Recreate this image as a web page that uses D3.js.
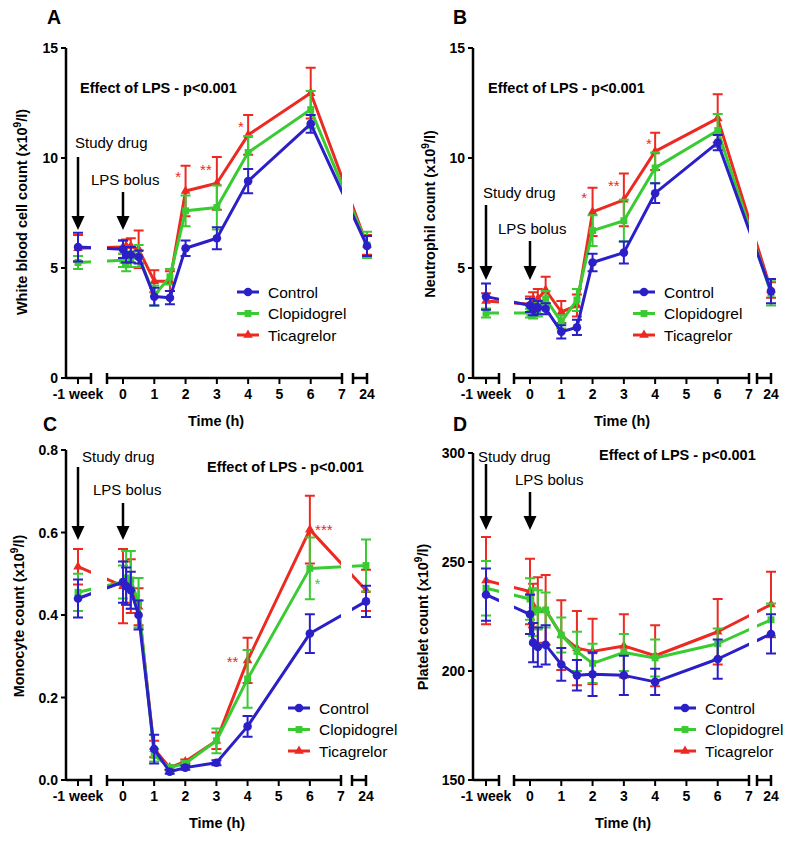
<!DOCTYPE html>
<html>
<head>
<meta charset="utf-8">
<script src="https://cdn.jsdelivr.net/npm/d3@7"></script>
<style>
  body { margin: 0; background: #fff; }
  text { font-family: "Liberation Sans", Arial, sans-serif; }
</style>
</head>
<body>
<div id="chart"></div>
<script>
const W = 800, H = 841;

// time points in hours (-168 = one week before)
const times = [-168, 0, 0.1, 0.25, 0.5, 1, 1.5, 2, 3, 4, 6, 24];
const xTickValues = [-168, 0, 1, 2, 3, 4, 5, 6, 7, 24];
const xTickLabels = ["-1 week", "0", "1", "2", "3", "4", "5", "6", "7", "24"];
const groups = ["Control", "Clopidogrel", "Ticagrelor"];
const colors = { Control: "#2b1fc8", Clopidogrel: "#3acb33", Ticagrelor: "#ec2a22" };

// A - white blood cells
const wbcControl = [5.95, 5.85, 5.6, 5.6, 5.5, 3.7, 3.65, 5.9, 6.35, 8.95, 11.55, 6.0];
const wbcControlErr = [0.65, 0.4, 0.35, 0.35, 0.3, 0.4, 0.3, 0.35, 0.5, 0.55, 0.4, 0.45];
const wbcClop = [5.25, 5.35, 5.15, 5.4, 5.55, 3.75, 4.6, 7.6, 7.75, 10.25, 12.2, 6.05];
const wbcClopErr = [0.3, 0.3, 0.3, 0.35, 0.5, 0.45, 0.35, 0.7, 1.0, 0.75, 0.85, 0.6];
const wbcTica = [5.9, 5.95, 6.0, 6.0, 5.85, 4.4, 4.4, 8.5, 8.85, 11.05, 12.95, 6.05];
const wbcTicaErr = [0.6, 0.3, 0.3, 0.35, 0.85, 0.5, 0.45, 1.15, 1.2, 0.9, 1.15, 0.45];

// B - neutrophils
const neuControl = [3.7, 3.3, 3.1, 3.2, 3.15, 2.1, 2.3, 5.25, 5.7, 8.4, 10.7, 3.95];
const neuControlErr = [0.6, 0.3, 0.25, 0.3, 0.25, 0.3, 0.35, 0.4, 0.5, 0.45, 0.35, 0.55];
const neuClop = [2.95, 2.95, 2.9, 3.1, 3.6, 2.55, 3.55, 6.7, 7.15, 9.55, 11.25, 3.85];
const neuClopErr = [0.2, 0.2, 0.2, 0.3, 0.35, 0.3, 0.5, 0.7, 0.95, 0.7, 0.75, 0.55];
const neuTica = [3.5, 3.35, 3.5, 3.6, 4.0, 3.0, 3.3, 7.55, 8.1, 10.3, 11.8, 4.0];
const neuTicaErr = [0.35, 0.35, 0.4, 0.45, 0.6, 0.5, 0.5, 1.1, 1.2, 0.85, 1.1, 0.35];

// C - monocytes
const monoControl = [0.44, 0.48, 0.47, 0.46, 0.40, 0.075, 0.02, 0.03, 0.042, 0.13, 0.355, 0.433];
const monoControlErr = [0.046, 0.05, 0.045, 0.045, 0.035, 0.035, 0.005, 0.005, 0.006, 0.025, 0.047, 0.038];
const monoClop = [0.455, 0.48, 0.49, 0.485, 0.43, 0.06, 0.03, 0.04, 0.095, 0.245, 0.513, 0.52];
const monoClopErr = [0.045, 0.04, 0.065, 0.07, 0.06, 0.015, 0.005, 0.005, 0.03, 0.07, 0.075, 0.063];
const monoTica = [0.517, 0.47, 0.48, 0.47, 0.42, 0.075, 0.03, 0.045, 0.095, 0.29, 0.607, 0.46];
const monoTicaErr = [0.043, 0.09, 0.05, 0.065, 0.045, 0.02, 0.005, 0.005, 0.02, 0.055, 0.082, 0.05];

// D - platelets
const pltControl = [235, 226, 213, 211, 212, 203, 198, 198.5, 198, 195, 205.5, 217];
const pltControlErr = [12, 9, 9, 9, 9, 7.5, 7, 10, 9, 6, 9, 9];
const pltClop = [238, 233, 227, 228, 228, 216.5, 209, 203.5, 208.5, 206, 212.5, 223.5];
const pltClopErr = [12.5, 9.5, 11, 9, 8, 8, 9, 9, 8.5, 8.5, 7, 7.5];
const pltTica = [241.5, 236.5, 230, 228, 228, 216.5, 210.5, 209, 211.5, 207, 218, 230.5];
const pltTicaErr = [20, 15, 10, 15, 16, 16, 17, 15, 14.5, 14, 15, 15];

// significance marks: time, value, text, group colour
const wbcStars = [[1.76, 9.3, "*", "Ticagrelor"], [2.65, 9.64, "**", "Ticagrelor"], [3.77, 11.6, "*", "Ticagrelor"]];
const neuStars = [[1.73, 8.36, "*", "Ticagrelor"], [2.68, 8.9, "**", "Ticagrelor"], [3.8, 10.8, "*", "Ticagrelor"]];
const monoStars = [[3.52, 0.296, "**", "Ticagrelor"], [6.45, 0.616, "***", "Ticagrelor"], [6.24, 0.485, "*", "Clopidogrel"]];
const pltStars = [];

const panels = [
  { label: "A", x0: 66, top: 48, bottom: 378, xo: [12, 57, 276, 301],
    yDomain: [0, 15], yTicks: [0, 5, 10, 15], fmt: d3.format("d"),
    yTitle: "White blood cell count (x10", yTitlePos: [27, 212],
    series: [[wbcControl, wbcControlErr], [wbcClop, wbcClopErr], [wbcTica, wbcTicaErr]], stars: wbcStars,
    study: [75, 148, 157, 230], lps: [91, 185, 192, 230], effect: [80, 93],
    legend: [237, 292], timeLabel: [216, 426], labelPos: [47, 24] },
  { label: "B", x0: 473, top: 48, bottom: 378, xo: [13, 57, 276, 298],
    yDomain: [0, 15], yTicks: [0, 5, 10, 15], fmt: d3.format("d"),
    yTitle: "Neutrophil count (x10", yTitlePos: [435, 214],
    series: [[neuControl, neuControlErr], [neuClop, neuClopErr], [neuTica, neuTicaErr]], stars: neuStars,
    study: [483, 198, 205, 280], lps: [498, 234, 241, 280], effect: [488, 93],
    legend: [633, 292], timeLabel: [622, 426], labelPos: [453, 24] },
  { label: "C", x0: 66, top: 450, bottom: 780, xo: [12, 57, 275, 300],
    yDomain: [0, 0.8], yTicks: [0, 0.2, 0.4, 0.6, 0.8], fmt: d3.format(".1f"),
    yTitle: "Monocyte count (x10", yTitlePos: [24, 616],
    series: [[monoControl, monoControlErr], [monoClop, monoClopErr], [monoTica, monoTicaErr]], stars: monoStars,
    study: [82, 462, 467, 540], lps: [93, 495, 503, 540], effect: [207, 472],
    legend: [288, 708], timeLabel: [217, 828], labelPos: [43, 431] },
  { label: "D", x0: 473, top: 453, bottom: 780, xo: [13, 57, 276, 298],
    yDomain: [150, 300], yTicks: [150, 200, 250, 300], fmt: d3.format("d"),
    yTitle: "Platelet count (x10", yTitlePos: [428, 617],
    series: [[pltControl, pltControlErr], [pltClop, pltClopErr], [pltTica, pltTicaErr]], stars: pltStars,
    study: [478, 462, 464, 530], lps: [515, 485, 492, 530], effect: [599, 460],
    legend: [674, 708], timeLabel: [623, 828], labelPos: [453, 431] }
];

const svg = d3.select("#chart").append("svg")
  .attr("width", W).attr("height", H);

const symbols = { Control: d3.symbolCircle, Clopidogrel: d3.symbolSquare, Ticagrelor: d3.symbolTriangle };
const symSize = { Control: 58, Clopidogrel: 48, Ticagrelor: 40 };

function drawArrow(g, x, y1, y2) {
  g.append("line").attr("x1", x).attr("x2", x).attr("y1", y1).attr("y2", y2 - 10)
    .attr("stroke", "#000").attr("stroke-width", 2.5);
  g.append("path").attr("d", `M${x - 6.5},${y2 - 14}L${x + 6.5},${y2 - 14}L${x},${y2}Z`).attr("fill", "#000");
}

panels.forEach((p, pi) => {
  const g = svg.append("g");
  const x = d3.scaleLinear()
    .domain([-168, 0, 7, 24])
    .range(p.xo.map(o => p.x0 + o));
  const y = d3.scaleLinear().domain(p.yDomain).range([p.bottom, p.top]);

  // axis segments (broken x axis)
  const segs = [
    [p.x0, x(-168) + 13],
    [x(0) - 16, x(7)],
    [x(24) - 14, x(24)]
  ];

  // clip paths for the lines so they break at the axis gaps
  const clipId = "clip" + p.label;
  const clip = svg.append("clipPath").attr("id", clipId);
  clip.append("rect").attr("x", p.x0).attr("y", 0).attr("width", segs[0][1] - p.x0).attr("height", H);
  clip.append("rect").attr("x", segs[1][0]).attr("y", 0).attr("width", segs[1][1] - segs[1][0]).attr("height", H);
  clip.append("rect").attr("x", segs[2][0]).attr("y", 0).attr("width", 40).attr("height", H);

  // y axis
  g.append("line").attr("x1", p.x0).attr("x2", p.x0).attr("y1", p.top).attr("y2", p.bottom + 1)
    .attr("stroke", "#000").attr("stroke-width", 2.5);
  p.yTicks.forEach(t => {
    g.append("line").attr("x1", p.x0 - 5).attr("x2", p.x0).attr("y1", y(t)).attr("y2", y(t))
      .attr("stroke", "#000").attr("stroke-width", 2);
    g.append("text").attr("x", p.x0 - 8).attr("y", y(t)).attr("dy", "0.36em")
      .attr("text-anchor", "end").attr("font-size", 14).attr("font-weight", "bold")
      .text(p.fmt(t));
  });

  // x axis segments with end caps
  segs.forEach((s, si) => {
    g.append("line").attr("x1", s[0]).attr("x2", s[1]).attr("y1", p.bottom).attr("y2", p.bottom)
      .attr("stroke", "#000").attr("stroke-width", 2.5);
    const caps = si === 0 ? [s[1]] : [s[0], s[1]];
    caps.forEach(cx => {
      g.append("line").attr("x1", cx).attr("x2", cx).attr("y1", p.bottom - 5).attr("y2", p.bottom + 6)
        .attr("stroke", "#000").attr("stroke-width", 2.5);
    });
  });
  xTickValues.forEach((t, i) => {
    g.append("line").attr("x1", x(t)).attr("x2", x(t)).attr("y1", p.bottom).attr("y2", p.bottom + 6)
      .attr("stroke", "#000").attr("stroke-width", 2);
    g.append("text").attr("x", x(t)).attr("y", p.bottom + 21)
      .attr("text-anchor", "middle").attr("font-size", 14).attr("font-weight", "bold")
      .text(xTickLabels[i]);
  });

  // titles
  g.append("text").attr("x", p.timeLabel[0]).attr("y", p.timeLabel[1])
    .attr("text-anchor", "middle").attr("font-size", 14.5).attr("font-weight", "bold").text("Time (h)");
  const yt = g.append("text")
    .attr("transform", `translate(${p.yTitlePos[0]},${p.yTitlePos[1]}) rotate(-90)`)
    .attr("text-anchor", "middle").attr("font-size", 14.5).attr("font-weight", "bold");
  yt.append("tspan").text(p.yTitle);
  yt.append("tspan").attr("dy", -6).attr("font-size", 10).text("9");
  yt.append("tspan").attr("dy", 6).text("/l)");
  g.append("text").attr("x", p.labelPos[0]).attr("y", p.labelPos[1])
    .attr("font-size", 19.5).attr("font-weight", "bold").text(p.label);
  g.append("text").attr("x", p.effect[0]).attr("y", p.effect[1])
    .attr("font-size", 14.5).attr("font-weight", "bold").text("Effect of LPS - p<0.001");

  // study drug / LPS annotations
  g.append("text").attr("x", p.study[0]).attr("y", p.study[1]).attr("font-size", 15).text("Study drug");
  drawArrow(g, x(-168), p.study[2], p.study[3]);
  g.append("text").attr("x", p.lps[0]).attr("y", p.lps[1]).attr("font-size", 15).text("LPS bolus");
  drawArrow(g, x(0), p.lps[2], p.lps[3]);

  // data: draw Ticagrelor first so Control sits on top
  const line = d3.line().x(d => x(d.t)).y(d => y(d.v));
  [2, 1, 0].forEach(gi => {
    const name = groups[gi];
    const col = colors[name];
    const pts = times.map((t, i) => ({ t: t, v: p.series[gi][0][i], e: p.series[gi][1][i] }));
    const sg = g.append("g");
    sg.append("path").datum(pts).attr("d", line)
      .attr("fill", "none").attr("stroke", col).attr("stroke-width", 3)
      .attr("stroke-linejoin", "round").attr("clip-path", `url(#${clipId})`);
    sg.selectAll(".eb").data(pts).join("path").attr("class", "eb")
      .attr("d", d => {
        const xx = x(d.t), y1 = y(d.v + d.e), y2 = y(d.v - d.e);
        return `M${xx},${y1}V${y2}M${xx - 5},${y1}H${xx + 5}M${xx - 5},${y2}H${xx + 5}`;
      })
      .attr("fill", "none").attr("stroke", col).attr("stroke-width", 2);
    sg.selectAll(".mk").data(pts).join("path").attr("class", "mk")
      .attr("transform", d => `translate(${x(d.t)},${y(d.v)})`)
      .attr("d", d3.symbol().type(symbols[name]).size(symSize[name]))
      .attr("fill", col);
  });

  // significance asterisks
  p.stars.forEach(s => {
    g.append("text").attr("x", x(s[0])).attr("y", y(s[1]) + 9)
      .attr("text-anchor", "middle").attr("font-size", 15).attr("fill", colors[s[3]]).text(s[2]);
  });

  // legend
  groups.forEach((name, i) => {
    const ly = p.legend[1] + i * 21.5;
    const lx = p.legend[0];
    g.append("line").attr("x1", lx).attr("x2", lx + 22).attr("y1", ly).attr("y2", ly)
      .attr("stroke", colors[name]).attr("stroke-width", 3);
    g.append("path").attr("transform", `translate(${lx + 11},${ly})`)
      .attr("d", d3.symbol().type(symbols[name]).size(symSize[name])).attr("fill", colors[name]);
    g.append("text").attr("x", lx + 31).attr("y", ly + 5.5).attr("font-size", 15.5).text(name);
  });
});
</script>
</body>
</html>
